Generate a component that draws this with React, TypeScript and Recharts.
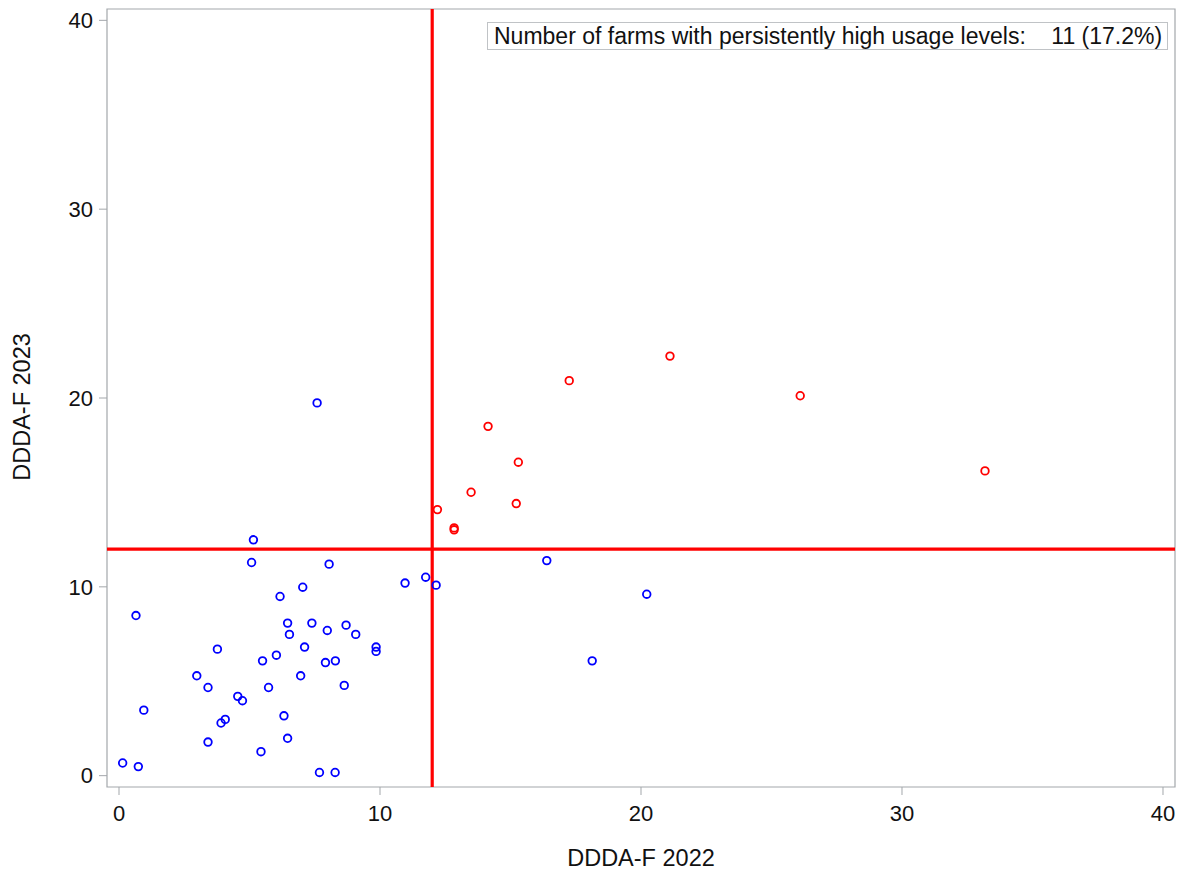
import React from 'react';
import {
  ScatterChart,
  Scatter,
  XAxis,
  YAxis,
  ReferenceLine,
  ReferenceArea,
  Label,
} from 'recharts';

// Farms above the threshold in both years (DDDA-F 2022, DDDA-F 2023)
const highUsage2022 = [21.11, 17.25, 26.1, 14.14, 15.3, 13.49, 15.22, 12.2, 12.84, 12.84, 33.18];
const highUsage2023 = [22.22, 20.92, 20.12, 18.5, 16.6, 15.01, 14.41, 14.09, 13.12, 13.02, 16.14];

// All other farms
const otherUsage2022 = [
  5.15, 5.08, 8.05, 10.96, 11.75, 12.15, 7.04, 6.17, 0.65, 6.46, 7.39, 8.7, 6.53, 7.98, 9.07,
  9.85, 9.85, 3.77, 7.11, 6.03, 5.5, 7.91, 8.29, 2.98, 6.96, 3.41, 5.73, 8.63, 4.55, 4.73,
  0.95, 6.32, 4.07, 3.91, 6.46, 3.41, 5.44, 0.14, 0.74, 7.68, 8.28, 7.59, 16.39, 20.22, 18.13,
];
const otherUsage2023 = [
  12.49, 11.29, 11.2, 10.2, 10.51, 10.09, 9.98, 9.49, 8.48, 8.08, 8.08, 7.97, 7.48, 7.69, 7.48,
  6.81, 6.58, 6.7, 6.81, 6.38, 6.08, 5.99, 6.08, 5.29, 5.29, 4.67, 4.67, 4.78, 4.2, 3.97,
  3.47, 3.17, 2.98, 2.79, 1.98, 1.78, 1.27, 0.67, 0.48, 0.17, 0.17, 19.74, 11.39, 9.61, 6.08,
];

const axisTicks = [0, 10, 20, 30, 40];
const usageThreshold = 12;
const totalFarms = 64;

const xDomain: [number, number] = [-0.46, 40.46];
const yDomain: [number, number] = [-0.6, 40.6];

const toPoints = (xs: number[], ys: number[]) => xs.map((x, i) => ({ x, y: ys[i] }));
const highPoints = toPoints(highUsage2022, highUsage2023);
const otherPoints = toPoints(otherUsage2022, otherUsage2023);

const FONT = '"Liberation Sans", Arial, sans-serif';
const FRAME = '#a3a7ab';
const TEXT = '#111';

const ring = (color: string) => (props: any) => (
  <circle cx={props.cx} cy={props.cy} r={3.8} fill="none" stroke={color} strokeWidth={1.8} />
);

const XTitle = (props: any) => {
  const { viewBox } = props;
  const cx = viewBox.x + viewBox.width / 2;
  return (
    <text x={cx} y={866} textAnchor="middle" fontSize={23.5} fontFamily={FONT} fill={TEXT}>
      DDDA-F 2022
    </text>
  );
};

const YTitle = (props: any) => {
  const { viewBox } = props;
  const cy = viewBox.y + viewBox.height / 2 + 9;
  const x = 30;
  return (
    <text
      x={x}
      y={cy}
      transform={`rotate(-90 ${x} ${cy})`}
      textAnchor="middle"
      fontSize={23.5}
      fontFamily={FONT}
      fill={TEXT}
    >
      DDDA-F 2023
    </text>
  );
};

export default function App() {
  const share = ((highPoints.length / totalFarms) * 100).toFixed(1);
  return (
    <div
      style={{
        position: 'absolute',
        left: 0,
        top: 0,
        width: 1184,
        height: 872,
        background: '#fff',
        fontFamily: FONT,
      }}
    >
      <ScatterChart width={1184} height={872} margin={{ top: 9, right: 9, bottom: 0, left: 0 }}>
        <XAxis
          type="number"
          dataKey="x"
          domain={xDomain}
          ticks={axisTicks}
          allowDataOverflow
          axisLine={false}
          tickLine={{ stroke: FRAME, strokeWidth: 1 }}
          tickSize={8}
          tickMargin={10}
          height={85}
          tick={{ fill: TEXT, fontSize: 22, fontFamily: FONT }}
        >
          <Label content={<XTitle />} />
        </XAxis>
        <YAxis
          type="number"
          dataKey="y"
          domain={yDomain}
          ticks={axisTicks}
          allowDataOverflow
          axisLine={false}
          tickLine={{ stroke: FRAME, strokeWidth: 1 }}
          tickSize={8}
          tickMargin={6}
          width={107}
          tick={{ fill: TEXT, fontSize: 22, fontFamily: FONT }}
        >
          <Label content={<YTitle />} />
        </YAxis>
        <ReferenceArea
          x1={xDomain[0]}
          x2={xDomain[1]}
          y1={yDomain[0]}
          y2={yDomain[1]}
          fill="none"
          stroke={FRAME}
          strokeWidth={1.2}
          fillOpacity={0}
        />
        <ReferenceLine x={usageThreshold} stroke="#ff0000" strokeWidth={3.2} />
        <ReferenceLine y={usageThreshold} stroke="#ff0000" strokeWidth={3.2} />
        <Scatter
          name="Other farms"
          data={otherPoints}
          shape={ring('#0000ff')}
          isAnimationActive={false}
        />
        <Scatter
          name="Persistently high"
          data={highPoints}
          shape={ring('#ff0000')}
          isAnimationActive={false}
        />
      </ScatterChart>
      <div
        style={{
          position: 'absolute',
          left: 487,
          top: 22,
          width: 681,
          height: 28,
          boxSizing: 'border-box',
          border: '1px solid #c0c3c6',
          background: '#fff',
          display: 'flex',
          alignItems: 'center',
          paddingLeft: 6,
          fontSize: 23,
          color: TEXT,
          whiteSpace: 'pre',
          lineHeight: '28px',
        }}
      >
        {`Number of farms with persistently high usage levels:    ${highPoints.length} (${share}%)`}
      </div>
    </div>
  );
}
